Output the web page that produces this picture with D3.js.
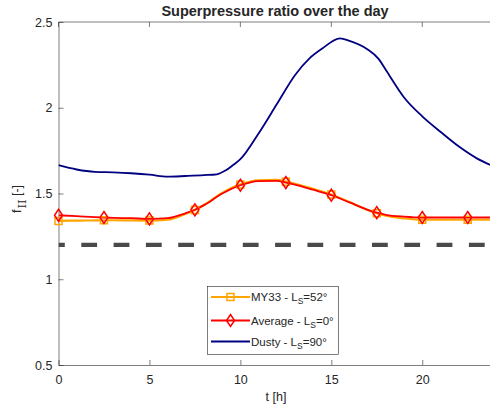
<!DOCTYPE html>
<html><head><meta charset="utf-8">
<script src="https://cdn.jsdelivr.net/npm/d3@7"></script>
<style>
body{margin:0;background:#fff;}
text{font-family:Helvetica, Arial, "Liberation Sans", sans-serif;fill:#262626;}
</style></head>
<body><svg id="c" width="490" height="411"></svg>
<script>
const dustyT   = [0,1,2,3,4,5,6,7,8,8.7,9.2,9.6,10,11,12,13,13.8,14.5,15.47,16,17,17.6,18,19,20,21,22,23,24];
const dustyV   = [1.665,1.64,1.626,1.623,1.618,1.61,1.598,1.602,1.607,1.612,1.635,1.666,1.70,1.85,2.02,2.19,2.288,2.345,2.405,2.39,2.34,2.285,2.22,2.06,1.95,1.86,1.775,1.705,1.655];
const avgT     = [0,1,2,2.5,3,4,5,6,7,7.5,8,9,10,11,12,12.5,13,14,15,16,17,17.5,18,19,20,21,22,22.5,23,24];
const avgV     = [1.373,1.368,1.362,1.360,1.358,1.356,1.352,1.356,1.385,1.405,1.432,1.50,1.548,1.572,1.574,1.564,1.552,1.522,1.49,1.448,1.405,1.388,1.376,1.365,1.360,1.360,1.360,1.360,1.360,1.360];
const my33V    = [1.340,1.342,1.343,1.344,1.344,1.343,1.342,1.347,1.382,1.404,1.433,1.503,1.553,1.577,1.579,1.569,1.557,1.527,1.494,1.450,1.404,1.385,1.370,1.355,1.347,1.347,1.347,1.347,1.347,1.347];
const markerTimes = [0,2.5,5,7.5,10,12.5,15,17.5,20,22.5];
const thresholdV = 1.2;
const xTicks = [0,5,10,15,20];
const yTicks = [0.5,1,1.5,2,2.5];
const legendNames = [["MY33 - L","S","=52°"],["Average - L","S","=0°"],["Dusty - L","S","=90°"]];
const colors = {my33:"#ffa500", avg:"#ff0000", dusty:"#000080"};

const svg = d3.select("#c");
const L=58.5, R=495, T=22, B=365;
const x = d3.scaleLinear().domain([0,24]).range([L,R]);
const y = d3.scaleLinear().domain([0.5,2.5]).range([B,T]);
const axisCol = "#262626";

svg.append("line").attr("x1",L).attr("x2",R).attr("y1",T).attr("y2",T).attr("stroke",axisCol).attr("stroke-width",0.6);
const xa = svg.append("g").attr("transform",`translate(0,${B})`)
  .call(d3.axisBottom(x).tickValues(xTicks).tickSizeInner(-5).tickSizeOuter(0).tickPadding(10).tickFormat(d3.format("d")));
const ya = svg.append("g").attr("transform",`translate(${L},0)`)
  .call(d3.axisLeft(y).tickValues(yTicks).tickSizeInner(-5).tickSizeOuter(0).tickPadding(6).tickFormat(d=>String(d)));
[xa,ya].forEach(g=>{g.selectAll("path").attr("stroke",axisCol).attr("stroke-width",0.6);
  g.selectAll("line").attr("stroke",axisCol).attr("stroke-width",0.6);
  g.selectAll("text").attr("font-size",12.5).attr("fill",axisCol).style("font-family","Helvetica, Arial, 'Liberation Sans', sans-serif");});
svg.append("g").selectAll("line").data(xTicks).join("line")
  .attr("x1",d=>x(d)).attr("x2",d=>x(d)).attr("y1",T).attr("y2",T+5).attr("stroke",axisCol).attr("stroke-width",0.6);

svg.append("defs").append("clipPath").attr("id","pc").append("rect").attr("x",L).attr("y",T).attr("width",R-L).attr("height",B-T);
const plot = svg.append("g").attr("clip-path","url(#pc)");

plot.append("line").attr("x1",x(0)).attr("x2",x(24)).attr("y1",y(thresholdV)).attr("y2",y(thresholdV))
  .attr("stroke","#4a4a4a").attr("stroke-width",4.2).attr("stroke-dasharray","15.8,16.5").attr("stroke-dashoffset",9.5);

const line = d3.line().curve(d3.curveMonotoneX);
const ptsMy = avgT.map((t,i)=>[x(t),y(my33V[i])]);
const ptsAvg = avgT.map((t,i)=>[x(t),y(avgV[i])]);
const ptsD = dustyT.map((t,i)=>[x(t),y(dustyV[i])]);

plot.append("path").attr("d",line(ptsMy)).attr("fill","none").attr("stroke",colors.my33).attr("stroke-width",2.2);
plot.append("path").attr("d",line(ptsAvg)).attr("fill","none").attr("stroke",colors.avg).attr("stroke-width",1.8);
plot.append("path").attr("d",line(ptsD)).attr("fill","none").attr("stroke",colors.dusty).attr("stroke-width",1.8);

const sq = (cx,cy,s)=>`M${cx-s},${cy-s}H${cx+s}V${cy+s}H${cx-s}Z`;
const dm = (cx,cy,w,h)=>`M${cx},${cy-h}L${cx+w},${cy}L${cx},${cy+h}L${cx-w},${cy}Z`;
const idx = markerTimes.map(t=>avgT.indexOf(t));
svg.append("g").selectAll("path").data(idx).join("path")
  .attr("d",i=>sq(x(avgT[i]),y(my33V[i]),3.5)).attr("fill","none").attr("stroke",colors.my33).attr("stroke-width",1.5);
svg.append("g").selectAll("path").data(idx).join("path")
  .attr("d",i=>dm(x(avgT[i]),y(avgV[i]),4,6)).attr("fill","none").attr("stroke",colors.avg).attr("stroke-width",1.5);

svg.append("text").attr("x",275).attr("y",16).attr("text-anchor","middle").attr("font-size",14.5).attr("font-weight","bold").attr("fill","#000").text("Superpressure ratio over the day");
svg.append("text").attr("x",276).attr("y",401).attr("text-anchor","middle").attr("font-size",12.5).text("t [h]");
const yl = svg.append("text").attr("transform","translate(21,199) rotate(-90)").attr("text-anchor","middle").attr("font-size",12.5);
yl.append("tspan").text("f");
yl.append("tspan").attr("dx",1).attr("dy",5).attr("font-size",11.5).style("font-family","'DejaVu Serif', 'Liberation Serif', serif").text("II");
yl.append("tspan").attr("dy",-5).text(" [-]");

const lg = svg.append("g");
lg.append("rect").attr("x",207.5).attr("y",286.5).attr("width",131).attr("height",68).attr("fill","#fff").attr("stroke",axisCol).attr("stroke-width",0.6);
const rowsY=[297,320.5,341.5];
const keys=["my33","avg","dusty"];
keys.forEach((k,i)=>{
  const yy=rowsY[i];
  lg.append("line").attr("x1",211).attr("x2",250).attr("y1",yy).attr("y2",yy).attr("stroke",colors[k]).attr("stroke-width",k==="my33"?2.2:1.8);
  if(k==="my33") lg.append("path").attr("d",sq(230.5,yy,3.5)).attr("fill","none").attr("stroke",colors[k]).attr("stroke-width",1.5);
  if(k==="avg") lg.append("path").attr("d",dm(230.5,yy,4,6)).attr("fill","none").attr("stroke",colors[k]).attr("stroke-width",1.5);
  const t=lg.append("text").attr("x",251).attr("y",yy+4).attr("font-size",11.5);
  t.append("tspan").text(legendNames[i][0]);
  t.append("tspan").attr("dy",3).attr("font-size",8.5).text(legendNames[i][1]);
  t.append("tspan").attr("dy",-3).text(legendNames[i][2]);
});
</script></body></html>
